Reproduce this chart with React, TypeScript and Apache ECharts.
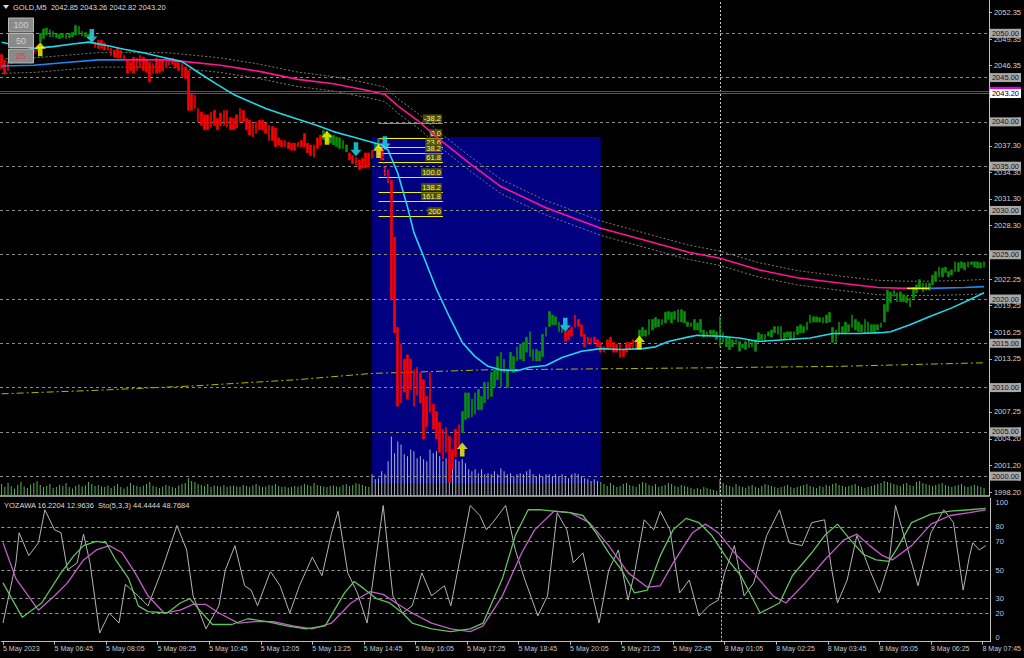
import React, { useEffect, useRef } from "react";
import * as echarts from "echarts";

const FONT = "'Liberation Sans', Arial, sans-serif";

// ---------- categories (5-minute bars) ----------
const sessionDays = ["5 May", "8 May"];
const sessionFirstBar = ["05:25", "01:00"];
const sessionBarCount = [223, 84];
const firstLabel = "5 May 2023";

// ---------- header ----------
const headerSymbol = "GOLD,M5";
const headerOHLC = [2042.85, 2043.26, 2042.82, 2043.2];
const subHeader = "YOZAWA 16.2204 12.9636  Sto(5,3,3) 44.4444 48.7684";
const zoomButtons = ["100", "50", "25"];

// ---------- price bars ----------
const barOpen = [
  2047.6, 2047.0, 2046.8, 2047.4, 2047.6, 2048.0, 2047.8, 2048.2, 2048.0, 2048.4,
  2048.3, 2048.6, 2049.0, 2049.4, 2049.8, 2049.6, 2049.6, 2049.5, 2049.4, 2049.5,
  2049.4, 2049.5, 2049.6, 2049.8, 2049.9, 2049.7, 2049.6, 2049.4, 2049.8, 2049.0,
  2049.2, 2049.2, 2048.9, 2048.6, 2048.3, 2048.1, 2048.3, 2048.1, 2047.5, 2047.0,
  2046.7, 2047.3, 2047.2, 2047.5, 2047.3, 2047.0, 2046.7, 2046.6, 2047.2, 2047.0,
  2047.0, 2047.2, 2047.2, 2047.2, 2047.0, 2046.7, 2046.6, 2046.2, 2045.8, 2043.2,
  2043.0, 2041.5, 2041.1, 2040.8, 2040.8, 2041.1, 2041.3, 2040.4, 2041.0, 2041.3,
  2041.3, 2040.5, 2040.4, 2040.8, 2041.5, 2041.3, 2040.4, 2040.2, 2039.9, 2040.0,
  2040.2, 2040.2, 2039.9, 2039.6, 2039.5, 2039.3, 2038.2, 2037.9, 2037.9, 2037.7,
  2037.6, 2037.6, 2037.7, 2037.9, 2038.7, 2037.6, 2037.4, 2037.4, 2038.2, 2038.5,
  2038.0, 2037.8, 2037.6, 2037.4, 2037.2, 2037.0, 2037.0, 2036.6, 2036.5, 2036.2,
  2036.0, 2035.7, 2035.9, 2036.5, 2036.5, 2036.8, 2037.0, 2037.0, 2037.0, 2034.9,
  2034.6, 2033.4, 2027.0, 2016.8, 2014.9, 2013.2, 2013.7, 2013.2, 2012.0, 2012.3,
  2011.7, 2010.9, 2009.0, 2011.7, 2008.1, 2007.3, 2006.1, 2005.3, 2005.5, 2004.5,
  2003.0, 2005.3, 2005.8, 2004.9, 2006.4, 2006.6, 2006.7, 2007.0, 2007.5, 2007.5,
  2008.3, 2008.7, 2009.0, 2010.1, 2010.9, 2010.1, 2011.7, 2010.0, 2012.0, 2011.7,
  2013.0, 2013.2, 2013.0, 2014.0, 2013.5, 2013.0, 2013.0, 2013.0, 2013.5, 2015.8,
  2016.9, 2017.1, 2017.1, 2016.3, 2016.2, 2016.3, 2016.5, 2016.8, 2018.2, 2017.7,
  2017.1, 2016.0, 2015.7, 2015.6, 2015.7, 2015.4, 2015.1, 2014.6, 2015.4, 2015.7,
  2015.1, 2014.9, 2014.9, 2014.3, 2015.1, 2015.1, 2015.4, 2015.1, 2014.9, 2015.8,
  2015.8, 2016.0, 2016.5, 2016.8, 2016.9, 2017.1, 2017.3, 2017.7, 2017.3, 2017.7,
  2017.4, 2017.4, 2017.3, 2016.9, 2016.9, 2016.5, 2016.5, 2016.2, 2015.7, 2015.8,
  2016.0, 2015.8, 2015.4, 2014.6, 2015.1, 2014.6, 2014.3, 2014.6, 2014.9, 2014.1,
  2014.5, 2014.3, 2014.5, 2014.6, 2014.1, 2015.2, 2015.4, 2015.2, 2015.8, 2015.7,
  2016.2, 2016.0, 2015.4, 2015.4, 2015.7, 2015.4, 2015.4, 2016.0, 2016.2, 2016.2,
  2016.5, 2017.3, 2017.4, 2017.4, 2017.4, 2017.3, 2017.3, 2017.4, 2015.1, 2015.1,
  2016.0, 2016.2, 2016.2, 2016.3, 2016.8, 2016.5, 2016.3, 2016.3, 2016.2, 2016.2,
  2016.3, 2016.3, 2016.5, 2016.8, 2017.4, 2018.6, 2019.6, 2020.3, 2019.7, 2019.7,
  2019.7, 2019.6, 2019.1, 2020.1, 2020.7, 2021.3, 2020.8, 2021.0, 2021.0, 2021.6,
  2022.0, 2022.5, 2022.5, 2023.0, 2022.5, 2022.7, 2023.1, 2023.1, 2023.5, 2023.3,
  2023.6, 2023.9, 2023.6, 2023.5, 2023.5, 2023.6,
];
const barClose = [
  2046.0, 2045.4, 2045.8, 2046.6, 2046.9, 2047.2, 2047.0, 2047.4, 2047.3, 2047.6,
  2047.8, 2048.0, 2050.0, 2050.5, 2050.6, 2050.4, 2050.2, 2050.0, 2049.9, 2050.0,
  2049.9, 2050.0, 2050.1, 2050.9, 2050.8, 2050.2, 2050.1, 2049.9, 2049.1, 2048.4,
  2048.3, 2048.3, 2048.1, 2048.1, 2047.5, 2047.3, 2047.2, 2047.2, 2047.0, 2045.5,
  2045.8, 2045.5, 2045.8, 2046.1, 2045.8, 2045.6, 2044.5, 2045.5, 2045.5, 2045.6,
  2045.8, 2046.2, 2046.4, 2046.5, 2046.1, 2045.8, 2045.0, 2044.9, 2041.3, 2041.3,
  2041.5, 2040.0, 2039.6, 2039.1, 2039.1, 2039.4, 2039.6, 2039.1, 2039.6, 2039.6,
  2039.4, 2039.1, 2039.1, 2039.3, 2039.9, 2040.0, 2039.1, 2038.5, 2038.3, 2038.7,
  2039.1, 2039.1, 2038.7, 2037.9, 2037.9, 2037.2, 2037.4, 2037.2, 2037.2, 2037.0,
  2036.8, 2036.8, 2037.2, 2037.2, 2037.2, 2036.5, 2036.2, 2036.0, 2037.0, 2037.4,
  2039.0, 2038.9, 2038.6, 2038.5, 2038.3, 2038.2, 2037.9, 2037.4, 2035.7, 2035.3,
  2035.1, 2034.6, 2034.8, 2034.8, 2034.9, 2035.9, 2037.6, 2038.1, 2035.7, 2034.0,
  2033.1, 2019.9, 2016.2, 2007.9, 2008.3, 2009.5, 2008.7, 2009.8, 2007.9, 2009.2,
  2008.3, 2004.2, 2005.6, 2007.2, 2005.3, 2004.2, 2002.7, 2001.9, 2002.7, 1999.3,
  2000.8, 2002.2, 2003.4, 2007.3, 2009.4, 2009.4, 2008.7, 2009.4, 2009.8, 2009.0,
  2010.6, 2010.6, 2011.7, 2012.0, 2013.5, 2014.0, 2013.2, 2012.0, 2014.0, 2013.5,
  2014.6, 2014.9, 2015.1, 2015.7, 2016.3, 2014.3, 2014.3, 2014.1, 2016.0, 2016.8,
  2018.6, 2018.2, 2018.0, 2017.4, 2017.1, 2015.2, 2015.4, 2015.8, 2016.8, 2016.9,
  2015.8, 2014.6, 2014.9, 2014.9, 2015.1, 2014.6, 2014.0, 2014.0, 2014.3, 2014.5,
  2014.0, 2014.0, 2013.4, 2013.5, 2014.0, 2014.3, 2014.3, 2014.3, 2016.5, 2016.8,
  2016.5, 2017.7, 2017.7, 2017.9, 2017.7, 2017.7, 2018.5, 2018.6, 2018.5, 2018.6,
  2018.8, 2018.8, 2018.6, 2017.4, 2017.3, 2017.7, 2017.3, 2017.7, 2016.5, 2016.3,
  2016.5, 2016.5, 2016.3, 2018.0, 2016.2, 2015.8, 2015.7, 2015.4, 2015.4, 2015.2,
  2014.9, 2015.2, 2015.4, 2015.2, 2015.4, 2016.2, 2016.0, 2016.0, 2016.3, 2016.5,
  2016.9, 2016.9, 2016.9, 2016.2, 2016.3, 2016.3, 2016.3, 2016.9, 2017.1, 2016.9,
  2017.4, 2018.2, 2018.0, 2018.0, 2017.9, 2017.9, 2018.2, 2018.5, 2016.8, 2016.5,
  2017.4, 2016.9, 2017.4, 2017.1, 2018.2, 2017.7, 2017.4, 2017.1, 2017.7, 2017.4,
  2017.1, 2017.1, 2017.1, 2017.3, 2019.4, 2021.0, 2020.8, 2021.0, 2020.7, 2020.8,
  2020.5, 2020.3, 2020.1, 2021.3, 2021.6, 2022.2, 2021.8, 2021.8, 2021.8, 2022.7,
  2023.1, 2023.6, 2023.5, 2023.6, 2023.1, 2023.3, 2024.2, 2024.1, 2024.2, 2024.1,
  2024.2, 2024.2, 2024.2, 2024.2, 2024.1, 2024.2,
];

// ---------- tick volume ----------
const volume = [
  480, 360, 520, 400, 300, 440, 560, 380, 320, 460, 520, 600, 440, 360, 400, 480, 320, 360, 440, 400, 520, 360, 300, 400, 460, 380, 420, 560, 480, 400,
  440, 380, 360, 420, 320, 400, 480, 360, 300, 380, 520, 440, 400, 360, 420, 480, 560, 400, 360, 320, 380, 440, 400, 360, 320, 420, 480, 520, 720, 600,
  560, 480, 440, 400, 480, 360, 420, 400, 380, 440, 360, 400, 420, 380, 360, 440, 400, 360, 420, 480, 400, 360, 380, 440, 420, 480, 400, 360, 380, 340,
  360, 400, 380, 420, 480, 440, 400, 520, 440, 400, 380, 360, 400, 420, 380, 360, 440, 480, 400, 440, 520, 480, 440, 400, 360,
  880, 680, 720, 1000, 880, 1400, 2400, 1720, 2200, 2080,
  1680, 1600, 1880, 1800, 1520, 1600, 1480, 1400, 1880, 1720,
  1800, 1600, 1400, 1520, 1480, 1400, 1480, 1400, 1480, 1320,
  1080, 1000, 1080, 920, 1080, 880, 920, 880, 1000, 880,
  1120, 1000, 880, 920, 800, 880, 920, 880, 1000, 1080,
  880, 800, 880, 800, 880, 880, 800, 880, 800, 880,
  800, 720, 880, 920, 880, 800, 720, 680, 600, 680,
  600,
  560, 480, 400, 520, 440, 360, 400, 480, 520, 440, 400, 360, 480, 560, 520, 440, 400, 480, 360, 400, 440, 520, 480, 400, 360, 440, 400, 360, 320, 280,
  320, 280, 360, 320, 280, 240, 200, 680, 520, 440, 400, 360, 480, 400, 360, 320, 400, 440, 360, 320, 400, 480, 440, 400, 360, 320, 360, 400, 440, 360,
  320, 360, 400, 440, 480, 400, 360, 320, 400, 360, 440, 400, 480, 520, 440, 400, 360, 400, 440, 480, 400, 360, 320, 360, 400, 440, 480, 520, 600, 560,
  520, 480, 440, 400, 480, 520, 440, 400, 560, 600, 520, 480, 440, 400, 440, 480, 520, 440, 400, 360, 400, 440, 480, 400, 360, 400, 440, 400, 360, 320,
];
const volumeAxisMax = 20000;

// ---------- moving averages [barIndex, price] ----------
const fastMA = [
  [0, 2049.0], [5, 2048.6], [10, 2048.3], [16, 2048.5], [22, 2048.8], [27, 2049.0], [33, 2048.6], [38, 2048.2],
  [44, 2047.8], [50, 2047.3], [56, 2046.8], [61, 2045.6], [67, 2044.2], [72, 2043.1], [77, 2042.3], [82, 2041.5],
  [87, 2040.9], [92, 2040.3], [98, 2039.6], [103, 2038.9], [108, 2038.4], [113, 2037.9], [118, 2037.4], [120, 2036.8],
  [123, 2034.2], [126, 2030.4], [128, 2027.5], [131, 2024.8], [135, 2021.1], [139, 2018.0], [143, 2015.1], [147, 2013.5],
  [151, 2012.4], [155, 2012.0], [160, 2011.9], [164, 2012.3], [169, 2012.5], [174, 2013.4], [180, 2014.1], [186, 2014.4],
  [192, 2014.3], [199, 2014.4], [203, 2014.6], [207, 2015.2], [213, 2015.7], [216, 2015.9], [223, 2015.8], [229, 2015.6],
  [235, 2015.2], [243, 2015.4], [251, 2015.6], [258, 2016.1], [266, 2016.1], [273, 2016.2], [276, 2016.3], [282, 2017.1],
  [288, 2018.0], [295, 2019.0], [301, 2020.0], [305, 2020.7],
];
const slowMARising1 = [[0, 2046.3], [10, 2046.4], [20, 2046.7], [30, 2047.0], [38, 2047.0]];
const slowMAFalling = [
  [38, 2047.0], [51, 2047.0], [57, 2046.8], [68, 2046.4], [80, 2045.7], [92, 2044.8], [103, 2044.3], [113, 2043.6],
  [119, 2043.1], [123, 2041.8], [129, 2040.2], [137, 2037.7], [145, 2035.4], [155, 2032.7], [169, 2030.3], [186, 2028.0],
  [200, 2026.6], [213, 2025.3], [223, 2024.6], [235, 2023.3], [247, 2022.4], [260, 2021.8], [272, 2021.3], [281, 2021.2],
];
const slowMAFlat = [[281, 2021.2], [288, 2021.2]];
const slowMARising2 = [[288, 2021.2], [299, 2021.3], [305, 2021.4]];
const envelopeDeviation = 0.0004;
const longMA = [
  [0, 2009.3], [30, 2009.7], [60, 2010.2], [92, 2010.9], [115, 2011.6], [150, 2012.0], [210, 2012.2], [260, 2012.4], [305, 2012.8],
];

// ---------- signal arrows [barIndex, price] ----------
const buyArrows = [[12, 2048.2], [101, 2038.2], [117, 2036.7], [143, 2003.0], [198, 2015.1]];
const sellArrows = [[28, 2049.7], [110, 2036.9], [119, 2037.6], [175, 2017.1]];

// ---------- Fibonacci ----------
const fibRatios = [-38.2, 0, 23.6, 38.2, 61.8, 100, 138.2, 161.8, 200];
const fibTexts = ["-38.2", "0.0", "23.6", "38.2", "61.8", "100.0", "138.2", "161.8", "200"];
const fibHigh = 2038.15;
const fibLow = 2033.75;
const fibStart = 117;
const fibEnd = 137;
const fibAnchor = [[118, 2038.15], [119, 2033.75]];

// ---------- rectangle, lines ----------
const rectFrom = 115;
const rectTo = 186;
const rectTop = 2038.3;
const rectBottom = 1999.2;
const daySeparator = 223;
const priceLevels = [2050, 2045, 2040, 2035, 2030, 2025, 2020, 2015, 2010, 2005, 2000];
const askLine = 2043.45;
const bidLine = 2043.2;
const priceMin = 1997.76;
const priceMax = 2053.76;
const priceTicks = [2052.35, 2049.35, 2046.35, 2037.3, 2034.3, 2031.3, 2028.3, 2022.25, 2019.25, 2016.25, 2013.25, 2007.25, 2004.2, 2001.2, 1998.2];

// ---------- lower window ----------
const oscLevels = [80, 70, 50, 30, 20];
const oscTicks = [0, 20, 30, 50, 70, 80, 100];
const stochMain = [
  [0, 41], [6, 17], [12, 27], [18, 48], [22, 60], [25, 67], [29, 70], [32, 69], [35, 57], [39, 44], [42, 25], [45, 21],
  [51, 20], [55, 27], [58, 30], [61, 22], [65, 12], [71, 12], [76, 16], [82, 14], [88, 11], [94, 9], [100, 11], [106, 34],
  [109, 42], [112, 37], [116, 30], [120, 27], [124, 20], [127, 13], [133, 9], [139, 7], [145, 9], [149, 13], [155, 44],
  [159, 74], [163, 92], [167, 92], [171, 91], [176, 90], [180, 88], [184, 76], [188, 62], [192, 50], [196, 34], [200, 36],
  [204, 60], [208, 78], [212, 86], [216, 83], [220, 74], [225, 57], [229, 46], [235, 20], [241, 27], [245, 46], [251, 62],
  [255, 74], [259, 82], [263, 71], [267, 61], [271, 57], [275, 56], [278, 67], [282, 83], [288, 89], [294, 91], [300, 92], [305, 93],
];
const stochSignal = [
  [0, 69], [4, 44], [11, 22], [16, 32], [20, 41], [25, 57], [29, 64], [33, 67], [37, 62], [41, 48], [45, 32], [50, 20],
  [55, 22], [59, 26], [63, 26], [67, 20], [73, 13], [78, 14], [84, 14], [90, 11], [96, 9], [102, 13], [108, 27], [114, 35],
  [118, 33], [122, 27], [127, 20], [133, 13], [139, 9], [145, 7], [149, 11], [155, 32], [161, 62], [165, 78], [171, 91],
  [176, 90], [182, 83], [188, 67], [194, 48], [200, 38], [204, 39], [208, 55], [214, 76], [218, 82], [222, 76], [227, 62],
  [233, 48], [239, 32], [243, 27], [249, 41], [255, 57], [261, 71], [265, 75], [269, 67], [273, 60], [276, 57], [282, 67],
  [288, 82], [294, 88], [300, 90], [305, 92],
];
const yozawa = [
  [0, 13], [4, 55], [5, 76], [8, 60], [11, 69], [13, 92], [16, 78], [18, 76], [20, 50], [23, 55], [25, 75], [27, 55],
  [30, 6], [33, 20], [36, 13], [38, 40], [41, 34], [45, 25], [49, 48], [54, 81], [57, 64], [59, 32], [63, 9], [67, 25],
  [69, 50], [72, 67], [75, 39], [77, 36], [79, 25], [83, 49], [86, 39], [89, 20], [92, 39], [96, 59], [99, 46], [102, 76],
  [104, 91], [107, 48], [110, 34], [113, 13], [116, 62], [118, 95], [121, 32], [124, 20], [127, 25], [130, 48], [133, 32],
  [137, 39], [139, 25], [143, 71], [145, 95], [148, 88], [150, 78], [152, 83], [156, 95], [159, 64], [162, 43], [166, 18],
  [169, 32], [172, 90], [175, 78], [177, 55], [180, 62], [183, 32], [185, 13], [188, 50], [191, 64], [194, 29], [196, 48],
  [199, 85], [202, 78], [204, 91], [207, 78], [210, 34], [213, 43], [216, 18], [219, 25], [222, 29], [224, 48], [227, 67],
  [230, 32], [233, 41], [237, 74], [241, 92], [244, 69], [248, 67], [251, 83], [255, 85], [257, 53], [259, 27], [262, 43],
  [265, 74], [269, 50], [272, 34], [275, 55], [277, 95], [280, 71], [284, 39], [288, 76], [292, 92], [295, 83], [298, 36],
  [300, 60], [301, 69], [303, 64], [305, 67],
];

function buildCategories() {
  const out = [];
  sessionDays.forEach((d, s) => {
    const [h, m] = sessionFirstBar[s].split(":").map(Number);
    let t = h * 60 + m;
    for (let k = 0; k < sessionBarCount[s]; k++, t += 5) {
      const hh = String(Math.floor(t / 60)).padStart(2, "0");
      const mm = String(t % 60).padStart(2, "0");
      out.push(`${d} ${hh}:${mm}`);
    }
  });
  return out;
}

const UP_ARROW = "path://M6,0L12,7L8.5,7L8.5,15L3.5,15L3.5,7L0,7Z";
const DOWN_ARROW = "path://M3.5,0L8.5,0L8.5,8L12,8L6,15L0,8L3.5,8Z";

function buildOption() {
  const cats = buildCategories();
  const candles = barOpen.map((o, i) => {
    const c = barClose[i];
    return [o, c, Math.min(o, c), Math.max(o, c)];
  });
  const slowAll = [...slowMARising1, ...slowMAFalling.slice(1), ...slowMAFlat.slice(1), ...slowMARising2.slice(1)];
  const envUp = slowAll.map(([i, p]) => [i, p * (1 + envelopeDeviation)]);
  const envDn = slowAll.map(([i, p]) => [i, p * (1 - envelopeDeviation)]);
  const fibPrice = (r) => fibHigh - (r / 100) * (fibHigh - fibLow);

  const lineBase = { type: "line", showSymbol: false, silent: true, xAxisIndex: 0, yAxisIndex: 0 };
  const txt = { fontFamily: FONT, fontSize: 7.5 };

  const series = [
    {
      ...lineBase, data: [], z: 1,
      markArea: { silent: true, itemStyle: { color: "#000080" }, data: [[{ coord: [rectFrom, rectTop] }, { coord: [rectTo, rectBottom] }]] },
    },
    {
      type: "bar", xAxisIndex: 0, yAxisIndex: 1, barWidth: 1, z: 2, silent: true,
      data: volume.map((v, i) => ({ value: v, itemStyle: { color: i >= rectFrom && i < rectTo ? "#a9b0d2" : "#5fae5f" } })),
    },
    {
      ...lineBase, data: [], z: 3,
      markLine: {
        silent: true, symbol: ["none", "none"],
        lineStyle: { color: "#8c8c8c", type: [3, 3], width: 1 },
        label: {
          show: true, position: "end", distance: 1, formatter: (p) => Number(p.value).toFixed(2),
          backgroundColor: "#a8a8a8", color: "#151515", padding: [1, 2, 0, 2], ...txt,
        },
        data: priceLevels.map((v) => ({ yAxis: v })),
      },
    },
    {
      ...lineBase, data: [], z: 3,
      markLine: { silent: true, symbol: ["none", "none"], label: { show: false }, lineStyle: { color: "#c8c8c8", type: [2, 2], width: 1 }, data: [{ xAxis: daySeparator }] },
    },
    { ...lineBase, data: longMA, z: 4, lineStyle: { color: "#b4b400", width: 1, type: [7, 3, 2, 3] } },
    { ...lineBase, data: envUp, z: 4, lineStyle: { color: "#7a7a7a", width: 1, type: [2, 2] } },
    { ...lineBase, data: envDn, z: 4, lineStyle: { color: "#7a7a7a", width: 1, type: [2, 2] } },
    {
      type: "candlestick", xAxisIndex: 0, yAxisIndex: 0, z: 5, silent: true, barWidth: 2.2,
      data: candles,
      itemStyle: { color: "#0b8e0b", color0: "#ff0000", borderColor: "#0b8e0b", borderColor0: "#ff0000", borderWidth: 0.6 },
    },
    { ...lineBase, data: slowMARising1, z: 6, lineStyle: { color: "#1e88f0", width: 1.6 } },
    { ...lineBase, data: slowMAFalling, z: 6, lineStyle: { color: "#ff1493", width: 1.6 } },
    { ...lineBase, data: slowMAFlat, z: 6, lineStyle: { color: "#f0f000", width: 1.6 } },
    { ...lineBase, data: slowMARising2, z: 6, lineStyle: { color: "#1e88f0", width: 1.6 } },
    { ...lineBase, data: fastMA, z: 6, lineStyle: { color: "#22d8e8", width: 1.6 } },
    {
      ...lineBase, data: [], z: 6,
      markLine: {
        silent: true, symbol: ["none", "none"],
        lineStyle: { color: "#f2f200", width: 1, type: "solid" },
        label: {
          show: true, position: "insideEndTop", distance: 1,
          formatter: (p) => fibTexts[p.dataIndex],
          color: "#f4f490", backgroundColor: "#4e4e08", padding: [0, 1, 0, 1], ...txt,
        },
        data: fibRatios.map((r) => [
          { coord: [fibStart, fibPrice(r)], lineStyle: { color: r < 0 ? "#9c9c1c" : "#f2f200" } },
          { coord: [fibEnd, fibPrice(r)] },
        ]),
      },
    },
    { ...lineBase, data: fibAnchor, z: 6, lineStyle: { color: "#ff3030", width: 1, type: [2, 2] } },
    { type: "scatter", xAxisIndex: 0, yAxisIndex: 0, z: 7, silent: true, symbol: UP_ARROW, symbolSize: [11, 14], itemStyle: { color: "#ffff00" }, data: buyArrows },
    { type: "scatter", xAxisIndex: 0, yAxisIndex: 0, z: 7, silent: true, symbol: DOWN_ARROW, symbolSize: [11, 14], itemStyle: { color: "#22e0f0" }, data: sellArrows },
    // ask line: only a sliver of its label box shows above the bid label
    {
      ...lineBase, data: [], z: 8,
      markLine: {
        silent: true, symbol: ["none", "none"], lineStyle: { color: "#c800c8", width: 1, type: "solid" },
        label: {
          show: true, position: "end", distance: 1, formatter: () => "{m| }",
          rich: { m: { width: 31, height: 9, backgroundColor: "#e000e0" } }, ...txt,
        },
        data: [{ yAxis: askLine }],
      },
    },
    {
      ...lineBase, data: [], z: 9,
      markLine: {
        silent: true, symbol: ["none", "none"], lineStyle: { color: "#5a5a5a", width: 1, type: "solid" },
        label: { show: true, position: "end", distance: 1, formatter: () => bidLine.toFixed(2), backgroundColor: "#ffffff", color: "#000000", padding: [1, 2, 0, 2], ...txt },
        data: [{ yAxis: bidLine }],
      },
    },
    {
      type: "line", showSymbol: false, silent: true, xAxisIndex: 1, yAxisIndex: 2, data: [], z: 2,
      markLine: {
        silent: true, symbol: ["none", "none"], label: { show: false },
        lineStyle: { color: "#9a9a9a", type: [3, 3], width: 1 },
        data: [...oscLevels.map((v) => ({ yAxis: v })), { xAxis: daySeparator, lineStyle: { color: "#c8c8c8", type: [2, 2] } }],
      },
    },
    { type: "line", showSymbol: false, silent: true, xAxisIndex: 1, yAxisIndex: 2, data: yozawa, z: 3, lineStyle: { color: "#b4b4b4", width: 1 } },
    { type: "line", showSymbol: false, silent: true, xAxisIndex: 1, yAxisIndex: 2, data: stochSignal, z: 4, lineStyle: { color: "#c45ec8", width: 1.3 } },
    { type: "line", showSymbol: false, silent: true, xAxisIndex: 1, yAxisIndex: 2, data: stochMain, z: 5, lineStyle: { color: "#62c062", width: 1.3 } },
  ];

  const graphic = [
    { type: "polygon", z: 100, shape: { points: [[3, 5], [9, 5], [6, 9]] }, style: { fill: "#d8d8d8" } },
    {
      type: "text", z: 100, x: 13, y: 7,
      style: { text: `${headerSymbol}  ${headerOHLC.map((v) => v.toFixed(2)).join(" ")}`, fill: "#dcdcdc", fontFamily: FONT, fontSize: 7.5, verticalAlign: "middle" },
    },
    ...zoomButtons.flatMap((t, k) => [
      { type: "rect", z: 100, shape: { x: 8.5, y: 18 + k * 15.5, width: 25, height: 14 }, style: { fill: "#8a8a8a", stroke: "#b8b8b8", lineWidth: 1 } },
      {
        type: "text", z: 101, x: 21, y: 25 + k * 15.5,
        style: { text: t, fill: k === 2 ? "#d04848" : "#d0d0d0", fontFamily: FONT, fontSize: 9, align: "center", verticalAlign: "middle" },
      },
    ]),
    { type: "text", z: 100, x: 4, y: 505.5, style: { text: subHeader, fill: "#dcdcdc", fontFamily: FONT, fontSize: 7.5, verticalAlign: "middle" } },
  ];

  return {
    animation: false,
    backgroundColor: "#000000",
    grid: [
      { left: 0, top: 0, width: 991, height: 496 },
      { left: 0, top: 498.3, width: 991, height: 143.4 },
    ],
    xAxis: [
      {
        type: "category", gridIndex: 0, data: cats, boundaryGap: true,
        axisLine: { show: true, lineStyle: { color: "#bdbdbd", width: 1.5 } },
        axisTick: { show: false }, axisLabel: { show: false }, splitLine: { show: false },
      },
      {
        type: "category", gridIndex: 1, data: cats, boundaryGap: true,
        axisLine: { show: true, lineStyle: { color: "#bdbdbd" } },
        axisTick: { show: true, interval: 15, alignWithLabel: true, length: 3, lineStyle: { color: "#bdbdbd" } },
        axisLabel: {
          interval: 15, align: "left", margin: 3, color: "#c8c8c8", fontFamily: FONT, fontSize: 7,
          formatter: (v, i) => (i === 0 ? firstLabel : v),
        },
        splitLine: { show: false },
      },
    ],
    yAxis: [
      {
        type: "value", gridIndex: 0, position: "right", min: priceMin, max: priceMax,
        splitLine: { show: false },
        axisLine: { show: true, lineStyle: { color: "#c4c4c4" } },
        axisTick: { show: true, customValues: priceTicks, length: 3, lineStyle: { color: "#c4c4c4" } },
        axisLabel: { customValues: priceTicks, formatter: (v) => Number(v).toFixed(2), color: "#d2d2d2", fontFamily: FONT, fontSize: 7.5, margin: 5 },
      },
      { type: "value", gridIndex: 0, min: 0, max: volumeAxisMax, show: false },
      {
        type: "value", gridIndex: 1, position: "right", min: 0, max: 100,
        splitLine: { show: false },
        axisLine: { show: true, lineStyle: { color: "#c4c4c4" } },
        axisTick: { show: false },
        axisLabel: {
          customValues: oscTicks, color: "#b8c8e8", fontFamily: FONT, fontSize: 7.5, margin: 5,
          verticalAlignMinLabel: "bottom", verticalAlignMaxLabel: "top",
        },
      },
    ],
    graphic,
    series,
  };
}

export default function App() {
  const ref = useRef(null);
  useEffect(() => {
    document.body.style.margin = "0";
    document.body.style.background = "#000";
    const chart = echarts.init(ref.current, null, { renderer: "svg" });
    chart.setOption(buildOption());
    return () => chart.dispose();
  }, []);
  return <div ref={ref} style={{ position: "fixed", left: 0, top: 0, width: 1024, height: 658, background: "#000" }} />;
}
